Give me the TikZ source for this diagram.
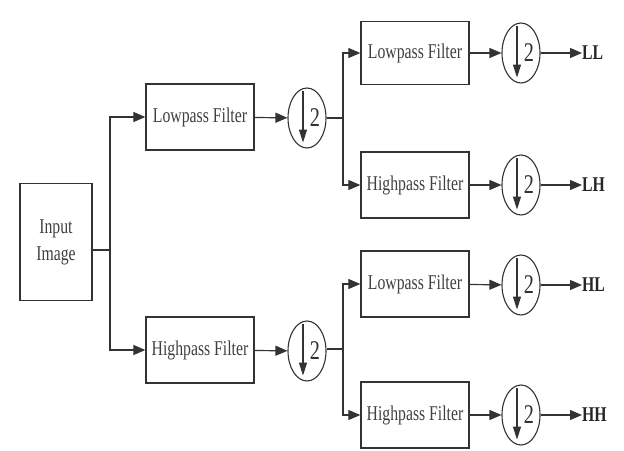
\documentclass[tikz,border=0pt]{standalone}
\usepackage{fontspec}
\newfontfamily\narrowserif[FakeStretch=0.75]{Liberation Serif}
\usetikzlibrary{arrows.meta,shapes.geometric}
\tikzset{
  filterbox/.style={draw=black!80,line width=1.3pt,minimum width=108pt,minimum height=66pt,inner sep=0pt,text=black!75,font=\narrowserif\fontsize{21}{21}\selectfont},
  downsamp/.style={draw=black!80,line width=1.1pt,ellipse,minimum width=38pt,minimum height=60pt,inner sep=0pt},
  arr/.style={draw=black!80,line width=1.2pt,-{Triangle[length=12pt,width=10pt]}},
  ln/.style={draw=black!80,line width=1.2pt},
  outlabel/.style={anchor=west,inner sep=0pt,text=black!85,font=\narrowserif\bfseries\fontsize{21}{21}\selectfont}
}
\begin{document}
\begin{tikzpicture}[x=1pt,y=-1pt]
\useasboundingbox[fill=white] (0,0) rectangle (624,450);

\node[filterbox,minimum width=72pt,minimum height=117pt,align=center,font=\narrowserif\fontsize{21}{27}\selectfont] (in) at (56,242) {Input\\Image};

\node[filterbox] (lp1) at (200,117) {Lowpass Filter};
\node[filterbox] (hp1) at (200,350) {Highpass Filter};
\node[downsamp] (ds1) at (307,118) {};
\node[downsamp] (ds2) at (307,351) {};

\node[filterbox,minimum height=63pt] (lpl) at (415,53) {Lowpass Filter};
\node[filterbox] (hpl) at (415,185) {Highpass Filter};
\node[filterbox] (lph) at (415,284) {Lowpass Filter};
\node[filterbox] (hph) at (415,415) {Highpass Filter};

\node[downsamp] (dsll) at (521,53) {};
\node[downsamp] (dslh) at (521,185) {};
\node[downsamp] (dshl) at (521,285) {};
\node[downsamp] (dshh) at (521,415) {};

\node[outlabel] (ll) at (582,53) {LL};
\node[outlabel] (lh) at (582,185) {LH};
\node[outlabel] (hl) at (582,285) {HL};
\node[outlabel] (hh) at (582,415) {HH};

\coordinate (j1) at (110,250);
\coordinate (j2) at (343,118);
\coordinate (j3) at (343,349);

\draw[ln] (in.east |- j1) -- (j1);
\draw[arr] (j1) |- (lp1);
\draw[arr] (j1) |- (hp1);
\draw[arr] (lp1) -- (ds1);
\draw[arr] (hp1) -- (ds2);
\draw[ln] (ds1) -- (j2);
\draw[ln] (ds2.east |- j3) -- (j3);
\draw[arr] (j2) |- (lpl);
\draw[arr] (j2) |- (hpl);
\draw[arr] (j3) |- (lph);
\draw[arr] (j3) |- (hph);

\draw[arr] (lpl) -- (dsll);
\draw[arr] (hpl) -- (dslh);
\draw[arr] (lph) -- (dshl);
\draw[arr] (hph) -- (dshh);
\draw[arr] (dsll) -- (ll);
\draw[arr] (dslh) -- (lh);
\draw[arr] (dshl) -- (hl);
\draw[arr] (dshh) -- (hh);

\foreach \d in {ds1,ds2,dsll,dslh,dshl,dshh}{
  \draw[line width=1.1pt,draw=black!80,-{Triangle[length=13pt,width=8pt]}] ([xshift=-4pt,yshift=-4pt]\d.north) -- ([xshift=-4pt,yshift=6pt]\d.south);
  \node[inner sep=0pt,text=black!80,font=\narrowserif\fontsize{27}{27}\selectfont] (\d-n) at ([xshift=8pt]\d.center) {2};
}
\end{tikzpicture}
\end{document}
